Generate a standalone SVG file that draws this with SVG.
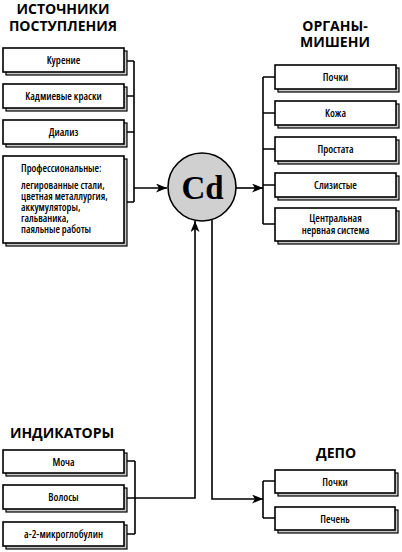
<svg xmlns="http://www.w3.org/2000/svg" width="402" height="552" viewBox="0 0 402 552">
<defs>
<style>
.bx{fill:#fff;stroke:#000;stroke-width:1.6}
.sh{fill:#c8c8c8;stroke:#000;stroke-width:1.2}
.t{font-family:"Open Sans","Liberation Sans",Arial,sans-serif;font-size:10.5px;font-weight:600;font-stretch:condensed;fill:#000;text-anchor:middle}
.tl{font-family:"Open Sans","Liberation Sans",Arial,sans-serif;font-size:10.3px;font-weight:600;font-stretch:condensed;fill:#000}
.h{font-family:"Open Sans","Liberation Sans",Arial,sans-serif;font-size:14px;font-weight:bold;fill:#000;text-anchor:middle}
.c{fill:none;stroke:#000;stroke-width:1.6}
</style>
<marker id="ar" markerUnits="userSpaceOnUse" markerWidth="12" markerHeight="10" refX="11" refY="4.5" orient="auto">
<path d="M0,0 L11,4.5 L0,9 L3,4.5 z" fill="#000"/>
</marker>
</defs>
<rect width="402" height="552" fill="#fff"/>

<g id="titles">
<text class="h" x="63" y="14">ИСТОЧНИКИ</text>
<text class="h" x="63" y="31">ПОСТУПЛЕНИЯ</text>
<text class="h" x="335" y="31">ОРГАНЫ-</text>
<text class="h" x="335" y="47">МИШЕНИ</text>
<text class="h" x="62" y="438">ИНДИКАТОРЫ</text>
<text class="h" x="336" y="458">ДЕПО</text>
</g>

<g id="connectors">
<path class="c" d="M124,61 H134 M124,96 H134 M124,132 H134 M124,202 H134 M134,61 V202"/>
<path class="c" d="M134,188 H167" marker-end="url(#ar)"/>
<path class="c" d="M263,77 H275 M263,113 H275 M263,149 H275 M263,185 H275 M263,224 H275 M263,77 V224"/>
<path class="c" d="M236,188 H263" marker-end="url(#ar)"/>
<path class="c" d="M124,461 H135 M124,534 H135 M135,461 V534"/>
<path class="c" d="M124,498 H195 V221" marker-end="url(#ar)"/>
<path class="c" d="M212,220 V499 H263" marker-end="url(#ar)"/>
<path class="c" d="M263,481 H275 M263,518 H275 M263,481 V518"/>
</g>

<g id="cd">
<circle cx="202" cy="187" r="34" fill="#d0d0d0" stroke="#000" stroke-width="1.6"/>
<text x="202.5" y="198.5" font-family="Liberation Serif,'Times New Roman',serif" font-size="33" font-weight="bold" text-anchor="middle">Cd</text>
</g>

<g id="src-kurenie"><rect class="sh" x="6" y="51" width="121" height="24"/><rect class="bx" x="3" y="48" width="121" height="24"/><text class="t" x="63.5" y="64">Курение</text></g>
<g id="src-kraski"><rect class="sh" x="6" y="87" width="121" height="24"/><rect class="bx" x="3" y="84" width="121" height="24"/><text class="t" x="63.5" y="100">Кадмиевые краски</text></g>
<g id="src-dializ"><rect class="sh" x="6" y="123" width="121" height="24"/><rect class="bx" x="3" y="120" width="121" height="24"/><text class="t" x="63.5" y="136">Диализ</text></g>
<g id="src-prof"><rect class="sh" x="6" y="159" width="121" height="87"/><rect class="bx" x="3" y="156" width="121" height="87"/>
<text class="tl" x="21" y="172">Профессиональные:</text>
<text class="tl" x="21" y="189">легированные стали,</text>
<text class="tl" x="21" y="200">цветная металлургия,</text>
<text class="tl" x="21" y="211">аккумуляторы,</text>
<text class="tl" x="21" y="222">гальваника,</text>
<text class="tl" x="21" y="233">паяльные работы</text></g>

<g id="org-pochki"><rect class="sh" x="278" y="68" width="121" height="24"/><rect class="bx" x="275" y="65" width="121" height="24"/><text class="t" x="335.5" y="81">Почки</text></g>
<g id="org-kozha"><rect class="sh" x="278" y="104" width="121" height="24"/><rect class="bx" x="275" y="101" width="121" height="24"/><text class="t" x="335.5" y="117">Кожа</text></g>
<g id="org-prostata"><rect class="sh" x="278" y="140" width="121" height="24"/><rect class="bx" x="275" y="137" width="121" height="24"/><text class="t" x="335.5" y="153">Простата</text></g>
<g id="org-slizistye"><rect class="sh" x="278" y="176" width="121" height="24"/><rect class="bx" x="275" y="173" width="121" height="24"/><text class="t" x="335.5" y="189">Слизистые</text></g>
<g id="org-cns"><rect class="sh" x="278" y="211" width="121" height="33"/><rect class="bx" x="275" y="208" width="121" height="33"/><text class="t" x="335.5" y="222">Центральная</text><text class="t" x="335.5" y="233.5">нервная система</text></g>

<g id="ind-mocha"><rect class="sh" x="6" y="453" width="121" height="23"/><rect class="bx" x="3" y="450" width="121" height="23"/><text class="t" x="63.5" y="465.5">Моча</text></g>
<g id="ind-volosy"><rect class="sh" x="6" y="488" width="121" height="24"/><rect class="bx" x="3" y="485" width="121" height="24"/><text class="t" x="63.5" y="501">Волосы</text></g>
<g id="ind-a2"><rect class="sh" x="6" y="525" width="121" height="24"/><rect class="bx" x="3" y="522" width="121" height="24"/><text class="t" x="63.5" y="538">а-2-микроглобулин</text></g>

<g id="depo-pochki"><rect class="sh" x="278" y="473" width="120" height="23"/><rect class="bx" x="275" y="470" width="120" height="23"/><text class="t" x="335" y="485.5">Почки</text></g>
<g id="depo-pechen"><rect class="sh" x="278" y="510" width="120" height="23"/><rect class="bx" x="275" y="507" width="120" height="23"/><text class="t" x="335" y="522.5">Печень</text></g>
</svg>
